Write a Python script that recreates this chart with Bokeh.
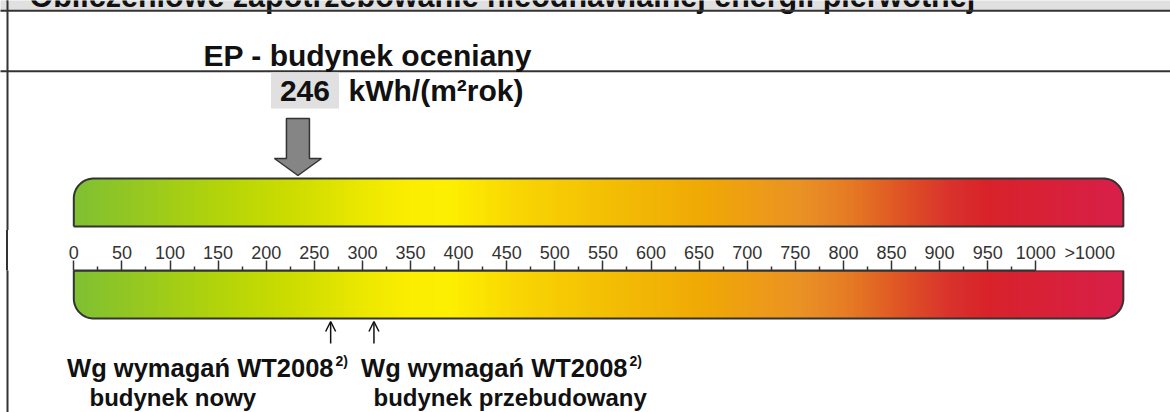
import numpy as np
from bokeh.plotting import figure
from bokeh.layouts import column
from bokeh.models import (Range1d, LinearAxis, FixedTicker, Arrow, OpenHead,
                          ColumnDataSource)
from bokeh.core.properties import value
from bokeh.embed import file_html
from bokeh.resources import INLINE

# ---------------- data ----------------
title_text = "Obliczeniowe zapotrzebowanie nieodnawialnej energii pierwotnej"
ep_caption = "EP - budynek oceniany"
ep_value = 246
ep_unit = "kWh/(m²rok)"
ep_marker = 233                      # where the big arrow points on the scale
scale_major = list(range(0, 1001, 50))
scale_minor = list(range(25, 1000, 50))
scale_open_label = ">1000"
scale_open_at = 1056
scale_end = 1091
wt_at = [267, 312]
wt_line1 = ["Wg wymagań WT2008", "Wg wymagań WT2008"]
wt_sup = ["2)", "2)"]
wt_line2 = ["budynek nowy", "budynek przebudowany"]

# ---------------- geometry / style ----------------
W, H = 1170, 412
X0 = 73.3      # pixel of value 0
K = 0.962      # pixels per unit
FONT = "Liberation Sans"
DARK = "#333333"
INK = "#111111"
BASE_FIX = 0.33   # glyph text is drawn a little low; lift by this share of its size
BORDER_CSS = {"background": "linear-gradient(to right, #ffffff 6px, #333333 6px, "
                            "#333333 8px, #ffffff 8px)"}


def v(px):
    return (np.asarray(px, dtype=float) - X0) / K


def ty(y, size):
    return np.asarray(y, dtype=float) - BASE_FIX * size


grad_px = [73, 223, 300, 360, 410, 450, 520, 600, 700, 750, 800, 850, 900, 950, 985, 1050, 1123]
grad_rgb = [(127, 192, 52), (181, 213, 10), (208, 222, 0), (235, 232, 0), (252, 238, 0),
            (253, 240, 0), (249, 213, 0), (244, 192, 0), (239, 168, 0), (238, 156, 16),
            (234, 144, 32), (230, 120, 32), (223, 82, 32), (217, 48, 42), (216, 33, 40),
            (216, 32, 56), (216, 32, 76)]
gr = np.array(grad_rgb, dtype=float)


def colour_at(px):
    r = np.interp(px, grad_px, gr[:, 0])
    g = np.interp(px, grad_px, gr[:, 1])
    b = np.interp(px, grad_px, gr[:, 2])
    return ["#%02x%02x%02x" % (int(a), int(bb), int(c)) for a, bb, c in zip(r, g, b)]


def draw_bar(p, ytop, ybot, round_top, r=20.0):
    xl = X0
    xr = X0 + K * scale_end
    n = int(round(xr - xl))
    edges = np.linspace(xl, xr, n + 1)
    centers = (edges[:-1] + edges[1:]) / 2
    d = np.minimum(centers - xl, xr - centers)
    dy = np.where(d < r, r - np.sqrt(np.maximum(r ** 2 - (r - d) ** 2, 0)), 0.0)
    if round_top:
        tops, bots = ytop + dy, np.full(n, ybot)
    else:
        tops, bots = np.full(n, ytop), ybot - dy
    p.quad(left=v(edges[:-1] - 0.35), right=v(edges[1:] + 0.35), top=tops, bottom=bots,
           fill_color=colour_at(centers), line_color=None)
    xs, ys = [], []
    if round_top:
        xs += [xl]; ys += [ybot]
        th = np.linspace(np.pi, 1.5 * np.pi, 24)
        xs += list(xl + r + r * np.cos(th)); ys += list(ytop + r + r * np.sin(th))
        th = np.linspace(1.5 * np.pi, 2 * np.pi, 24)
        xs += list(xr - r + r * np.cos(th)); ys += list(ytop + r + r * np.sin(th))
        xs += [xr, xl]; ys += [ybot, ybot]
    else:
        xs += [xl, xr]; ys += [ytop, ytop]
        th = np.linspace(0, 0.5 * np.pi, 24)
        xs += list(xr - r + r * np.cos(th)); ys += list(ybot - r + r * np.sin(th))
        th = np.linspace(0.5 * np.pi, np.pi, 24)
        xs += list(xl + r + r * np.cos(th)); ys += list(ybot - r + r * np.sin(th))
        xs += [xl]; ys += [ytop]
    p.line(x=v(xs), y=ys, line_color=DARK, line_width=2)


def base_fig(height, y0, y1):
    p = figure(width=W, height=height, x_range=Range1d(v(0), v(W)),
               y_range=Range1d(y1, y0), output_backend="svg", toolbar_location=None,
               x_axis_location=None, y_axis_location=None, min_border=0,
               outline_line_color=None, background_fill_color="white",
               border_fill_color="white")
    p.grid.visible = False
    return p


def label(p, x, y, text, size, **kw):
    p.text(x=v(x), y=ty(y, size), text=text, text_font=value(FONT), text_font_size=f"{size}px",
           text_font_style="bold", text_color=INK, text_baseline="alphabetic", **kw)


# ---------------- top figure ----------------
TOP_H = 230
top = base_fig(TOP_H, 0, TOP_H)

top.quad(left=[v(-10)], right=[v(W + 10)], top=[-10], bottom=[10], fill_color="#e0e0e0", line_color=None)
label(top, [29], [6], [title_text], 30.5)
top.line(x=v([-10, W + 10]), y=[10.2, 10.2], line_color=DARK, line_width=2)
top.line(x=v([-10, W + 10]), y=[70.8, 70.8], line_color=DARK, line_width=2)
top.line(x=v([7, 7]), y=[-10, TOP_H + 10], line_color=DARK, line_width=2)

label(top, [203], [65], [ep_caption], 30)

cx = X0 + K * ep_marker
top.quad(left=[v(cx - 27)], right=[v(cx + 41)], top=[72], bottom=[108], fill_color="#e0e0e0", line_color=None)
label(top, [cx + 7], [100], [str(ep_value)], 30, text_align="center")
label(top, [348], [100], [ep_unit], 30)

ax_px = [cx - 11.5, cx + 11.5, cx + 11.5, cx + 23.5, cx, cx - 23.5, cx - 11.5]
ay_px = [118, 118, 158, 158, 175, 158, 158]
top.patch(x=v(ax_px), y=ay_px, fill_color="#858585", line_color=DARK, line_width=1.5)

draw_bar(top, 178, 226, True)

# ---------------- bottom figure ----------------
BOT_H = H - TOP_H
AX_H = 270 - TOP_H
bot = base_fig(BOT_H, 270, H)
bot.min_border_top = AX_H
bot.border_fill_color = None
bot.styles = BORDER_CSS

tick_axis = LinearAxis(ticker=FixedTicker(ticks=scale_major, minor_ticks=scale_minor),
                       bounds=(0, 1000), axis_line_color=DARK, axis_line_width=2,
                       major_tick_out=10, major_tick_in=0, minor_tick_out=4, minor_tick_in=0,
                       major_tick_line_color=DARK, major_tick_line_width=1.5,
                       minor_tick_line_color=DARK, minor_tick_line_width=1.5,
                       major_label_standoff=0, major_label_text_font_size="1px",
                       major_label_text_color=None)
label_axis = LinearAxis(ticker=FixedTicker(ticks=scale_major + [scale_open_at], minor_ticks=[]),
                        major_label_overrides={scale_open_at: scale_open_label},
                        axis_line_color=None, major_tick_out=0, major_tick_in=0,
                        major_tick_line_color=None, minor_tick_line_color=None,
                        minor_tick_out=0, minor_tick_in=0,
                        major_label_standoff=-2, major_label_text_font=FONT,
                        major_label_text_font_size="18px", major_label_text_color="#333333")
bot.add_layout(tick_axis, "above")
bot.add_layout(label_axis, "above")
bot.line(x=v([7, 7]), y=[260, H + 10], line_color=DARK, line_width=2)

draw_bar(bot, 270, 318, False)

arr_src = ColumnDataSource(dict(x=wt_at, y0=[343, 343], y1=[321, 321]))
bot.add_layout(Arrow(source=arr_src, x_start="x", y_start="y0", x_end="x", y_end="y1",
                     line_color=INK, line_width=1.5,
                     end=OpenHead(size=10, line_color=INK, line_width=1.5)))

line1_right = [333, 627]
line2_left = [89, 373]
label(bot, line1_right, [376, 376], wt_line1, 25.5, text_align="right")
label(bot, np.array(line1_right) + 2, [365, 365], wt_sup, 14)
label(bot, line2_left, [405, 405], wt_line2, 24)

layout = column(top, bot, spacing=0, styles=BORDER_CSS)
open("out.html", "w").write(file_html(layout, INLINE))
